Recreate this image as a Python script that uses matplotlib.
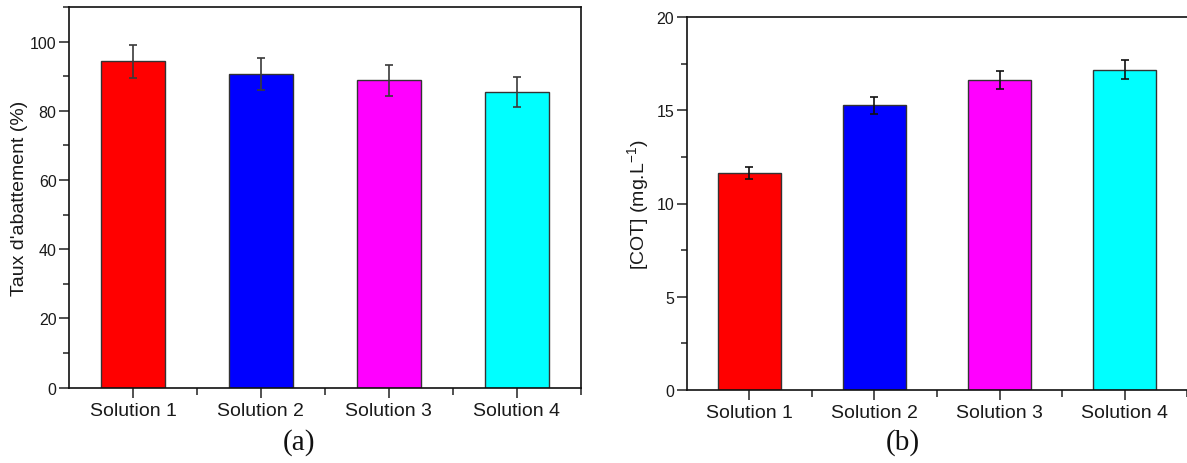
import matplotlib
matplotlib.use("Agg")
import matplotlib.pyplot as plt
from matplotlib.ticker import MultipleLocator, FixedLocator

plt.rcParams['font.family'] = ['Liberation Sans', 'DejaVu Sans']

categories = ["Solution 1", "Solution 2", "Solution 3", "Solution 4"]
colors = ["#FF0000", "#0000FF", "#FF00FF", "#00FFFF"]

abattement = [94.3, 90.6, 88.8, 85.4]
abattement_err = [4.7, 4.6, 4.5, 4.3]

cot = [11.64, 15.28, 16.62, 17.18]
cot_err = [0.34, 0.45, 0.48, 0.52]

fig = plt.figure(figsize=(11.87, 4.64), dpi=100)

ax1 = fig.add_axes([69/1187, (464-388.7)/464, 511.7/1187, 380.7/464])
ax2 = fig.add_axes([686.7/1187, (464-390.7)/464, 500.5/1187, 372.4/464])

pos = list(range(1, len(categories) + 1))

def style(ax, ymax, major, minor, ylabel, yfs=11.5):
    ax.set_xlim(0.5, 4.5)
    ax.set_ylim(0, ymax)
    ax.set_xticks(pos)
    ax.set_xticklabels(categories, fontsize=14, color="#1a1a1a")
    ax.xaxis.set_minor_locator(FixedLocator([1.5, 2.5, 3.5, 4.5]))
    ax.yaxis.set_major_locator(MultipleLocator(major))
    ax.yaxis.set_minor_locator(MultipleLocator(minor))
    ax.tick_params(axis='both', which='major', direction='out', length=7,
                   width=1.1, color="#222222")
    ax.tick_params(axis='both', which='minor', direction='out', length=4,
                   width=1.1, color="#222222")
    ax.tick_params(axis='x', which='major', pad=3)
    ax.tick_params(axis='y', which='major', labelsize=yfs, labelcolor="#1a1a1a", pad=2)
    ax.tick_params(axis='x', which='minor', length=5)
    for s in ax.spines.values():
        s.set_linewidth(1.2)
        s.set_color("#111111")
    ax.set_ylabel(ylabel, fontsize=14, color="#1a1a1a")

ax1.bar(pos, abattement, width=0.5, color=colors, edgecolor="#333333", linewidth=1.0,
        yerr=abattement_err, capsize=3,
        error_kw=dict(ecolor="#3a3a3a", elinewidth=1.2, capthick=1.2))
style(ax1, 110, 20, 10, "Taux d'abattement (%)")
ax1.yaxis.set_label_coords(-0.08, 0.5)

ax2.bar(pos, cot, width=0.5, color=colors, edgecolor="#333333", linewidth=1.0,
        yerr=cot_err, capsize=3,
        error_kw=dict(ecolor="#111111", elinewidth=1.2, capthick=1.2))
style(ax2, 20, 5, 2.5, r"[COT] (mg.L$^{\mathregular{-1}}$)")
ax2.spines['right'].set_visible(False)
ax2.yaxis.set_label_coords(-0.07, 0.5)

fig.text(299/1187, 1 - 443/464, "(a)", fontsize=21, family=['Liberation Serif'],
         ha='center', va='center', color="#111111")
fig.text(903/1187, 1 - 443/464, "(b)", fontsize=21, family=['Liberation Serif'],
         ha='center', va='center', color="#111111")

fig.savefig("out.png", dpi=100, facecolor="white")
